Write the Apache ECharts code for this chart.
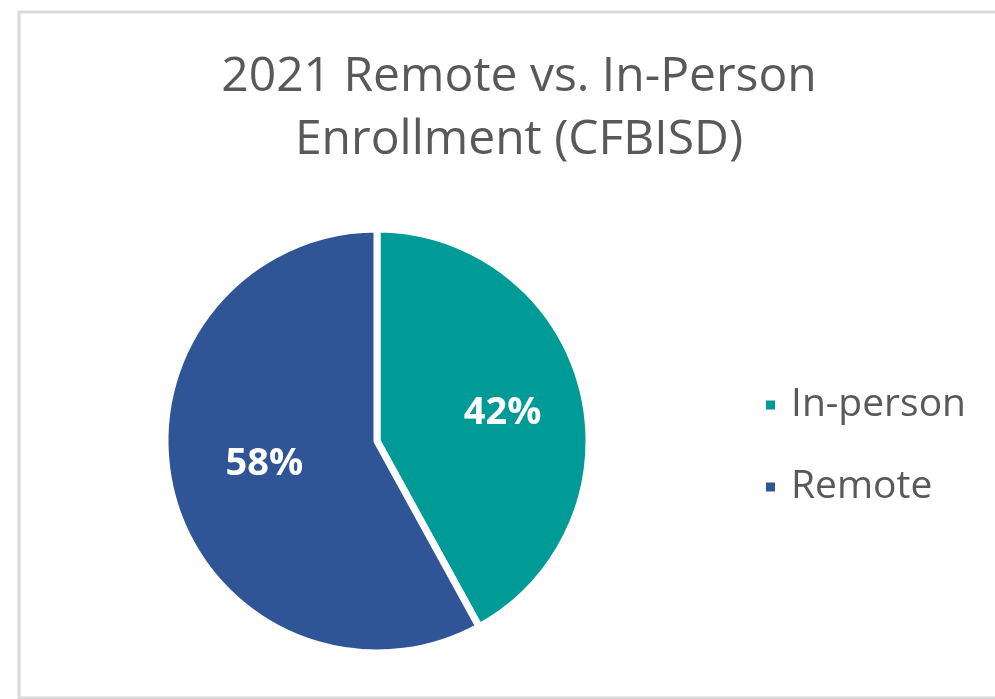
<!DOCTYPE html>
<html>
<head>
<meta charset="utf-8">
<style>
  html, body { margin: 0; padding: 0; background: #fff; }
  #chart { width: 995px; height: 699px; }
</style>
<script src="https://cdn.jsdelivr.net/npm/echarts@6/dist/echarts.min.js"></script>
</head>
<body>
<div id="chart"></div>
<script>
// 数据
const categories = ['In-person', 'Remote']
const values = [42, 58]
const colors = ['#009a97', '#2f5597']
// 标签微调（Excel 的标签位置比 ECharts 略偏外）
const labelShift = [[20, -1], [-7, -4]]

const chart = echarts.init(document.getElementById('chart'))

const option = {
  backgroundColor: '#fff',
  animation: false,
  title: {
    text: '2021 Remote vs. In-Person\nEnrollment (CFBISD)',
    left: 514,
    top: 41,
    textAlign: 'center',
    textStyle: {
      fontFamily: 'Open Sans',
      fontSize: 48,
      fontWeight: 'normal',
      color: '#595959',
      lineHeight: 63
    }
  },
  legend: {
    orient: 'vertical',
    left: 759,
    top: 380,
    icon: 'rect',
    itemWidth: 11,
    itemHeight: 11,
    itemGap: 42,
    data: categories,
    textStyle: {
      fontFamily: 'Open Sans',
      fontSize: 39,
      color: '#595959',
      lineHeight: 40,
      padding: [0, 0, 0, 10]
    }
  },
  graphic: [{
    type: 'rect',
    shape: { x: 19, y: 12, width: 1000, height: 686 },
    style: { fill: 'none', stroke: '#d9d9d9', lineWidth: 3 },
    silent: true
  }],
  series: [{
    type: 'pie',
    center: [377, 441],
    radius: 212,
    startAngle: 90,
    clockwise: true,
    itemStyle: { borderColor: '#fff', borderWidth: 7 },
    label: {
      show: true,
      position: 'inside',
      formatter: '{c}%',
      fontFamily: 'Open Sans',
      fontSize: 38,
      fontWeight: 'bold',
      color: '#fff'
    },
    labelLine: { show: false },
    data: categories.map((name, i) => ({
      name: name,
      value: values[i],
      itemStyle: { color: colors[i] },
      label: { offset: labelShift[i] }
    }))
  }]
}

chart.setOption(option)
</script>
</body>
</html>
